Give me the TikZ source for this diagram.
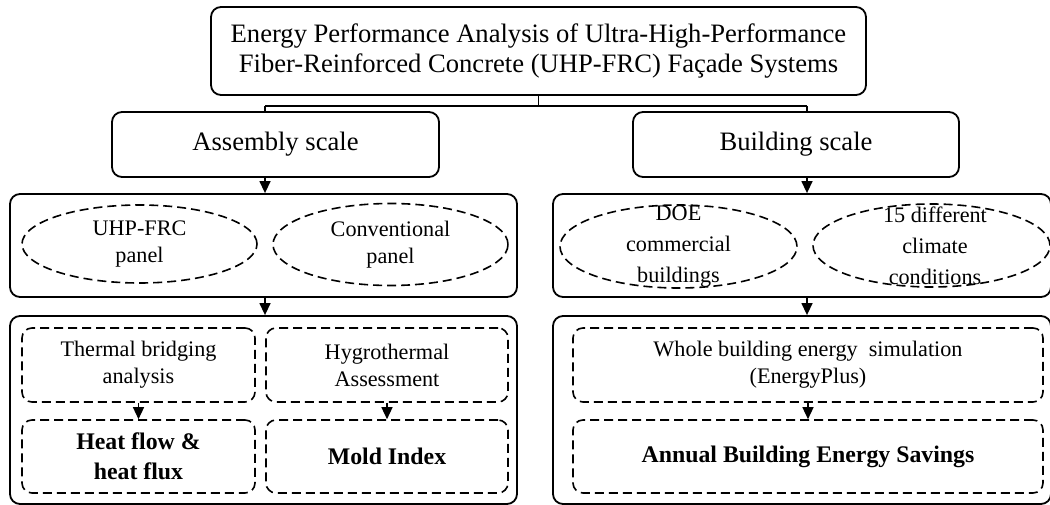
\documentclass[tikz,border=0pt]{standalone}
\usepackage{fontspec}
\setmainfont{Liberation Serif}
\usetikzlibrary{arrows.meta,shapes.geometric}
\begin{document}
\begin{tikzpicture}[x=1pt,y=-1pt,
  sbox/.style={draw,line width=1.8pt,rounded corners=10pt,align=center,inner sep=0pt},
  dbox/.style={draw,line width=1.6pt,dash pattern=on 9pt off 5pt,rounded corners=10pt,align=center,inner sep=0pt},
  dell/.style={ellipse,draw,line width=1.6pt,dash pattern=on 9pt off 5pt,align=center,inner sep=0pt},
  bigtxt/.style={font=\fontsize{26.6}{30}\selectfont},
  bodytxt/.style={font=\fontsize{22.2}{27}\selectfont},
  boldtxt/.style={font=\fontsize{23.8}{30}\selectfont\bfseries},
  arr/.style={line width=1.4pt,-{Triangle[length=12pt,width=11pt]}},
  conn/.style={line width=1.8pt}]
\useasboundingbox (0,0) rectangle (1050,505);
\clip (0,0) rectangle (1050,505);
% top
\node[sbox,bigtxt,minimum width=655pt,minimum height=88pt] (title) at (538.5,51)
  {Energy Performance Analysis of Ultra-High-Performance\\Fiber-Reinforced Concrete (UHP-FRC) Façade Systems};
\node[sbox,bigtxt,minimum width=327pt,minimum height=65pt] (asm) at (275.5,144.5) {Assembly scale};
\node[sbox,bigtxt,minimum width=326pt,minimum height=65pt] (bld) at (796,144.5) {Building scale};
% containers
\node[sbox,minimum width=507pt,minimum height=103pt] (c1L) at (263.5,245.5) {};
\node[sbox,minimum width=498pt,minimum height=103pt] (c1R) at (802,245.5) {};
\node[sbox,minimum width=507pt,minimum height=188pt] (c2L) at (263.5,410) {};
\node[sbox,minimum width=498pt,minimum height=188pt] (c2R) at (802,410) {};
% ellipses
\node[dell,bodytxt,minimum width=235pt,minimum height=78pt] (e1) at (139.5,244) {UHP-FRC\\panel};
\node[dell,bodytxt,minimum width=235pt,minimum height=82pt] (e2) at (390.5,244.5) {Conventional\\panel};
\node[dell,minimum width=237pt,minimum height=83pt] (e3) at (678.5,246.5) {};
\node[align=center,font=\fontsize{22.2}{31}\selectfont] (t3) at (e3) {DOE\\commercial\\buildings};
\node[dell,minimum width=237pt,minimum height=83pt] (e4) at (931.5,245.5) {};
\node[align=center,font=\fontsize{22.2}{31}\selectfont] (t4) at (935,245.5) {15 different\\climate\\conditions};
% inner dashed boxes
\node[dbox,bodytxt,minimum width=233pt,minimum height=74pt] (tb) at (138.5,365) {Thermal bridging\\analysis};
\node[dbox,bodytxt,minimum width=242pt,minimum height=74pt] (hy) at (387,365) {Hygrothermal\\Assessment};
\node[dbox,boldtxt,minimum width=233pt,minimum height=73pt] (hf) at (138.5,456.5) {Heat flow \&\\heat flux};
\node[dbox,boldtxt,minimum width=242pt,minimum height=73pt] (mi) at (387,456.5) {Mold Index};
\node[dbox,bodytxt,minimum width=470pt,minimum height=74pt] (wb) at (808,365) {Whole building energy\ \ simulation\\(EnergyPlus)};
\node[dbox,boldtxt,minimum width=470pt,minimum height=73pt] (ab) at (808,456.5) {Annual Building Energy Savings};
% connectors
\coordinate (jL) at (265,106);
\coordinate (jR) at (807,106);
\coordinate (jM) at (title.south |- jL);
\draw[conn] (title.south) -- (jM);
\draw[conn] (jL) -- (jR);
\draw[conn] (jL) -- (jL |- asm.north);
\draw[conn] (jR) -- (jR |- bld.north);
\draw[arr] (asm.south -| jL) -- (c1L.north -| jL);
\draw[arr] (bld.south -| jR) -- (c1R.north -| jR);
\draw[arr] (c1L.south -| jL) -- (c2L.north -| jL);
\draw[arr] (c1R.south -| jR) -- (c2R.north -| jR);
\draw[arr] (tb.south) -- (hf.north);
\draw[arr] (hy.south) -- (mi.north);
\draw[arr] (wb.south) -- (ab.north);
\end{tikzpicture}
\end{document}
